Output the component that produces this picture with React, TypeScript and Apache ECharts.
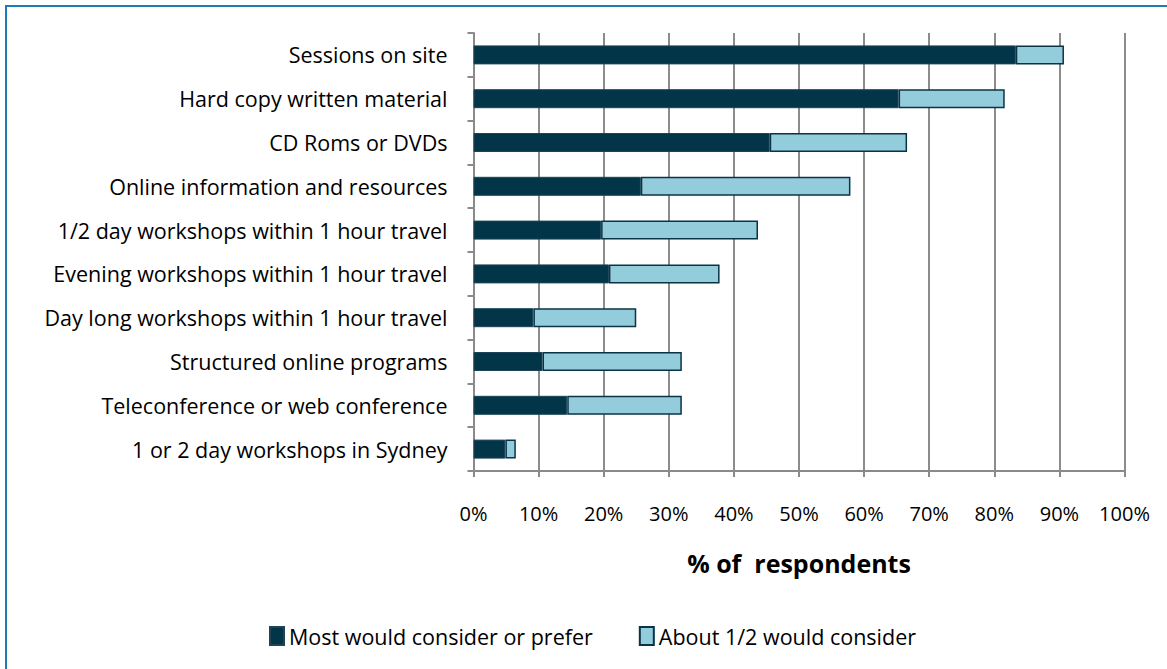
import React, { useEffect, useRef } from "react";
import * as echarts from "echarts";

const categories = [
  "Sessions on site",
  "Hard copy written material",
  "CD Roms or DVDs",
  "Online information and resources",
  "1/2 day workshops within 1 hour travel",
  "Evening workshops within 1 hour travel",
  "Day long workshops within 1 hour travel",
  "Structured online programs",
  "Teleconference or web conference",
  "1 or 2 day workshops in Sydney",
];
const mostWouldConsider = [83.3, 65.3, 45.5, 25.7, 19.6, 20.8, 9.2, 10.6, 14.4, 4.9];
const aboutHalfWouldConsider = [7.4, 16.3, 21.1, 32.2, 24.1, 17.0, 15.8, 21.4, 17.6, 1.6];
const seriesNames = ["Most would consider or prefer", "About 1/2 would consider"];
const xTicks = { min: 0, max: 100, interval: 10 };

const FONT = "'Open Sans', 'Liberation Sans', sans-serif";

export default function App() {
  const ref = useRef<HTMLDivElement>(null);
  useEffect(() => {
    if (!ref.current) return;
    const chart = echarts.init(ref.current, undefined, { renderer: "svg" });
    chart.setOption({
      animation: false,
      backgroundColor: "#ffffff",
      textStyle: { fontFamily: FONT, color: "#000" },
      graphic: [
        {
          type: "rect",
          shape: { x: 6, y: 6, width: 1200, height: 700 },
          style: { fill: "none", stroke: "#1f7bb6", lineWidth: 2 },
          silent: true,
        },
      ],
      grid: { left: 473.5, right: 42.5, top: 33, bottom: 198, containLabel: false },
      legend: {
        left: 264,
        top: 620,
        itemWidth: 14,
        itemHeight: 18,
        itemGap: 46,
        icon: "rect",
        textStyle: { fontFamily: FONT, fontSize: 21.5, color: "#000" },
        data: seriesNames,
      },
      xAxis: {
        type: "value",
        min: xTicks.min,
        max: xTicks.max,
        interval: xTicks.interval,
        name: "% of  respondents",
        nameLocation: "middle",
        nameGap: 79,
        nameTextStyle: { fontFamily: FONT, fontSize: 25, fontWeight: "bold", color: "#000" },
        axisLine: { show: true, lineStyle: { color: "#8a8a8a", width: 2 } },
        axisTick: { show: true, length: 6, lineStyle: { color: "#8a8a8a", width: 2 } },
        axisLabel: { formatter: "{value}%", margin: 32, fontSize: 20, fontFamily: FONT, color: "#000" },
        splitLine: { show: true, lineStyle: { color: "#8c8c8c", width: 2 } },
      },
      yAxis: {
        type: "category",
        inverse: true,
        data: categories,
        axisLine: { show: true, lineStyle: { color: "#8a8a8a", width: 2 } },
        axisTick: { show: true, length: 6, lineStyle: { color: "#8a8a8a", width: 2 } },
        axisLabel: { margin: 26, fontSize: 21.5, fontFamily: FONT, color: "#000" },
        splitLine: { show: false },
      },
      series: [
        {
          name: seriesNames[0],
          type: "bar",
          stack: "total",
          barWidth: 19,
          data: mostWouldConsider,
          itemStyle: { color: "#033549", borderColor: "#1d4557", borderWidth: 1 },
        },
        {
          name: seriesNames[1],
          type: "bar",
          stack: "total",
          barWidth: 19,
          data: aboutHalfWouldConsider,
          itemStyle: { color: "#93cddc", borderColor: "#0b3346", borderWidth: 1.5 },
        },
      ],
    });
    return () => chart.dispose();
  }, []);
  return (
    <div
      ref={ref}
      style={{ position: "fixed", left: 0, top: 0, width: 1167, height: 669 }}
    />
  );
}
